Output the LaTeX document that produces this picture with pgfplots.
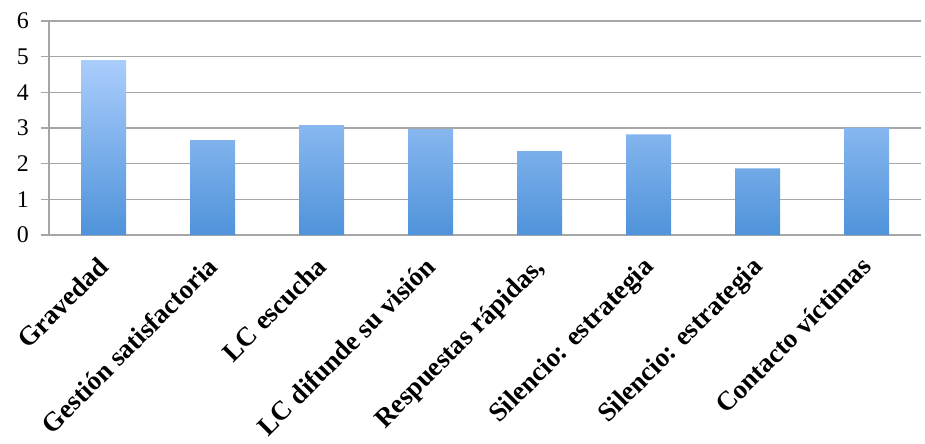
\documentclass[border=0pt]{standalone}
\usepackage{pgfplots}
\pgfplotsset{compat=1.18}
\usepackage{fontspec}
\setmainfont{Liberation Serif}
\definecolor{gridgray}{HTML}{A6A6A6}
\definecolor{bartop}{HTML}{AACDFC}
\definecolor{barbot}{HTML}{4F93DA}
\begin{document}
\begin{tikzpicture}
\useasboundingbox (0,0) rectangle (925bp,444bp);
\begin{axis}[
  at={(49bp,209bp)}, anchor=south west,
  scale only axis, width=872bp, height=214bp,
  xmin=0, xmax=8, ymin=0, ymax=6,
  axis lines*=left,
  axis line style={gridgray, line width=1.3bp},
  ytick={0,...,6},
  ymajorgrids,
  grid style={gridgray, line width=1.3bp},
  tick align=outside,
  major tick style={gridgray, line width=1.3bp},
  major tick length=8bp,
  xtick={0.5,1.5,...,7.5},
  xticklabels={Gravedad, Gestión satisfactoria, LC escucha, LC difunde su visión, {Respuestas rápidas,}, {Silencio: estrategia}, {Silencio: estrategia}, Contacto víctimas},
  x tick style={draw=none},
  minor xtick={0,...,8},
  minor x tick style={gridgray, line width=1.3bp},
  minor tick length=8bp,
  xticklabel style={yshift=-12bp, xshift=-7bp, font=\fontsize{27}{30}\selectfont\bfseries, rotate=45, anchor=north east, inner sep=0pt},
  yticklabel style={font=\fontsize{24}{26}\selectfont, inner sep=0pt, xshift=-12bp},
  /pgf/number format/assume math mode=true,
  clip=false,
]
\addplot[ybar, bar width=45bp, draw=none, shading=axis, top color=bartop, bottom color=barbot]
coordinates {(0.5,4.90) (1.5,2.66) (2.5,3.08) (3.5,2.97) (4.5,2.35) (5.5,2.82) (6.5,1.87) (7.5,3.01)};
\end{axis}
\end{tikzpicture}
\end{document}
